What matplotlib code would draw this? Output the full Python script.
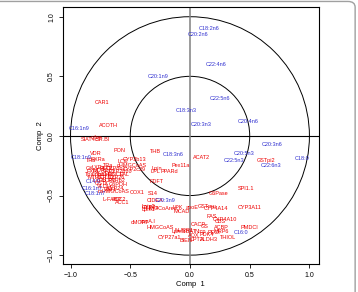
import matplotlib
matplotlib.use('Agg')
import matplotlib.pyplot as plt
from matplotlib.patches import Circle, FancyBboxPatch

plt.rcParams['font.family'] = ['Liberation Sans', 'DejaVu Sans']

# fatty acids (blue labels)
fa_names = ['C18:2n6', 'C20:2n6', 'C22:4n6', 'C20:1n9', 'C22:5n6', 'C18:3n3',
            'C20:3n3', 'C20:4n6', 'C16:1n9', 'C20:3n6', 'C20:5n3', 'C22:5n3',
            'C22:6n3', 'C18:0', 'C16:0', 'C18:1n9', 'C14:0', 'C16:1n7',
            'C18:1n7', 'C18:3n6', 'C20:3n9']
fa_x = [0.16, 0.07, 0.22, -0.27, 0.25, -0.03, 0.09, 0.49, -0.93, 0.69, 0.45, 0.37,
        0.68, 0.94, 0.43, -0.91, -0.81, -0.82, -0.79, -0.14, -0.21]
fa_y = [0.905, 0.85, 0.60, 0.50, 0.31, 0.21, 0.10, 0.12, 0.06, -0.07, -0.15, -0.21,
        -0.25, -0.19, -0.81, -0.18, -0.385, -0.44, -0.48, -0.155, -0.545]

# genes (red labels)
gene_names = ['CAR1', 'ACOTH', 'SIAT4c', 'SR.BI', 'c.fos', 'PON', 'VDR', 'THB',
              'ACAT2', 'GSTpi2', 'SPI1.1', 'G6Pase', 'CYP3A11', 'GSTmu', 'CYP4A14',
              'FAS', 'CYP4A10', 'CBS', 'CACP', 'PMDCI', 'ACBP', 'THIOL', 'ALDH3',
              'BIEN', 'CPT2', 'CYP27a1', 'Pex11a', 'Lpin', 'LPL', 'PPARd', 'FDFT',
              'COX1', 'S14', 'L-FABP', 'ACC1', 'ACC2', 'G6PDH', 'CIDEA',
              'RXRa', 'TRb', 'LCE', 'CYP2b13', 'TRa', 'cHMGCoAS', 'CYP2c29', 'GK',
              'LXRa', 'PLTP', 'CYP8b1', 'FXR', 'MDR2', 'SHP1', 'CYP2b10', 'Tpalpha',
              'Tpbeta', 'HPNCL', 'PAL', 'MTHFR', 'OCTN2', 'CYP26', 'LXRb', 'UCP2',
              'RXRb2', 'GSTa', 'VLDLr', 'CYP24', 'mHMGCoAS', 'Waf1',
              'Lpin2', 'HMGCoAred', 'LPK', 'apoE', 'Lpin1', 'MCAD', 'CYP7a',
              'cMOAT', 'apoA.I', 'HMGCoAS', 'Lpin3', 'NURR1',
              'GS', 'MRP6', 'PECI', 'Ntcp', 'PDK4', 'i.BAT', 'AOX']
gene_x = [-0.74, -0.68, -0.84, -0.73, -0.78, -0.59, -0.79, -0.29,
          0.10, 0.64, 0.47, 0.24, 0.50, 0.14, 0.22,
          0.18, 0.29, 0.25, 0.07, 0.50, 0.265, 0.32, 0.16,
          -0.035, 0.055, -0.17, -0.075, -0.28, -0.29, -0.17, -0.28,
          -0.44, -0.31, -0.65, -0.57, -0.59, -0.60, -0.29,
          -0.77, -0.83, -0.56, -0.46, -0.69, -0.49, -0.47, -0.84,
          -0.77, -0.70, -0.62, -0.82, -0.75, -0.68, -0.58, -0.80,
          -0.72, -0.64, -0.55, -0.78, -0.70, -0.62, -0.76, -0.68,
          -0.62, -0.74, -0.71, -0.62, -0.64, -0.67,
          -0.35, -0.24, -0.10, 0.02, -0.35, -0.07, -0.33,
          -0.42, -0.35, -0.25, -0.10, -0.05,
          0.12, 0.26, 0.20, 0.09, 0.14, 0.00, 0.03]
gene_y = [0.28, 0.09, -0.03, -0.03, -0.01, -0.125, -0.15, -0.13,
          -0.18, -0.21, -0.44, -0.48, -0.60, -0.59, -0.61,
          -0.68, -0.70, -0.72, -0.74, -0.77, -0.77, -0.855, -0.87,
          -0.88, -0.87, -0.85, -0.245, -0.275, -0.30, -0.30, -0.38,
          -0.475, -0.48, -0.53, -0.555, -0.535, -0.41, -0.545,
          -0.20, -0.21, -0.215, -0.20, -0.245, -0.245, -0.28, -0.27,
          -0.265, -0.275, -0.27, -0.30, -0.29, -0.30, -0.30, -0.32,
          -0.325, -0.32, -0.32, -0.345, -0.35, -0.345, -0.37, -0.375,
          -0.37, -0.40, -0.42, -0.445, -0.47, -0.45,
          -0.59, -0.61, -0.60, -0.60, -0.62, -0.63, -0.60,
          -0.73, -0.72, -0.765, -0.80, -0.79,
          -0.76, -0.80, -0.81, -0.80, -0.83, -0.80, -0.835]

fig = plt.figure(figsize=(3.58, 2.92), dpi=100)
ax = fig.add_axes([0.175, 0.096, 0.716, 0.879])

ax.add_patch(Circle((0, 0), 1.0, fill=False, ec='black', lw=0.7))
ax.add_patch(Circle((0, 0), 0.5, fill=False, ec='black', lw=0.7))
ax.axhline(0, color='black', lw=0.8)
ax.axvline(0, color='#808080', lw=1.1)

for n, x, y in zip(gene_names, gene_x, gene_y):
    ax.text(x, y, n, color='#ee0000', fontsize=4.0, ha='center', va='center')
for n, x, y in zip(fa_names, fa_x, fa_y):
    ax.text(x, y, n, color='#3030d0', fontsize=4.0, ha='center', va='center')

ax.set_xlim(-1.066, 1.08)
ax.set_ylim(-1.074, 1.079)
ax.set_xticks([-1.0, -0.5, 0.0, 0.5, 1.0])
ax.set_yticks([-1.0, -0.5, 0.0, 0.5, 1.0])
ax.set_xticklabels(['\u22121.0', '\u22120.5', '0.0', '0.5', '1.0'])
ax.set_yticklabels(['\u22121.0', '\u22120.5', '0.0', '0.5', '1.0'],
                   rotation=90, va='center')
ax.tick_params(labelsize=5, length=3, width=0.6, pad=2.5)
for s in ax.spines.values():
    s.set_linewidth(0.8)
ax.set_xlabel('Comp  1', fontsize=5.5, labelpad=2)
ax.set_ylabel('Comp  2', fontsize=5.5, labelpad=3)

# rounded grey frame round the whole figure
fig.patches.append(FancyBboxPatch((-0.02, -0.03), 1.012, 1.025,
                                  boxstyle='round,pad=0,rounding_size=0.02',
                                  transform=fig.transFigure, fill=False,
                                  ec='#a0a0a0', lw=1.0))

fig.savefig('out.png', dpi=100)
